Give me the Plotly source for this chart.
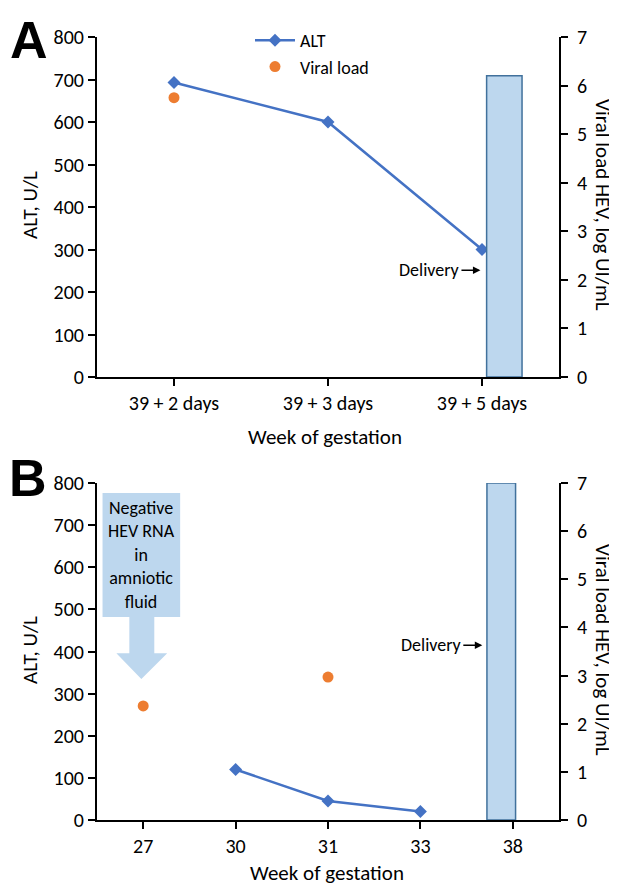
import plotly.graph_objects as go

# ---------------- data ----------------
a_cats = ["39 + 2 days", "39 + 3 days", "39 + 5 days"]
a_alt = [693, 600, 300]
a_vl_cats = ["39 + 2 days"]
a_vl = [5.75]
a_delivery_cat = ["39 + 5 days"]
a_delivery_top = [6.2]

b_cats = ["27", "30", "31", "33", "38"]
b_alt_cats = ["30", "31", "33"]
b_alt = [120, 45, 20]
b_vl_cats = ["27", "31"]
b_vl = [2.37, 2.97]
b_delivery_cat = ["38"]
b_delivery_top = [7.0]

alt_ticks = [0, 100, 200, 300, 400, 500, 600, 700, 800]
vl_ticks = [0, 1, 2, 3, 4, 5, 6, 7]

# ---------------- styles ----------------
OFF = 8                      # default page body margin
W, H = 617 - OFF, 885 - OFF
L, R, T, B = 97 - OFF, 58, 37 - OFF, 65
PW, PH = W - L - R, H - T - B
FONT = "Carlito, Calibri, Lato, sans-serif"
BLUE = "#4472C4"
ORANGE = "#ED7D31"
LIGHT = "#BDD7EE"
EDGE = "#41719C"


def px(xp):
    return (xp - OFF - L) / PW


def py(yp):
    return (H - B - (yp - OFF)) / PH


fig = go.Figure()

# Panel A
fig.add_trace(go.Bar(x=a_delivery_cat, y=a_delivery_top, xaxis="x", yaxis="y2",
                     width=0.23, offset=0.03, marker=dict(color=LIGHT, line=dict(color=EDGE, width=1.5)),
                     showlegend=False, hoverinfo="skip"))
fig.add_trace(go.Scatter(x=a_cats, y=a_alt, xaxis="x", yaxis="y", name="ALT", mode="lines+markers",
                         line=dict(color=BLUE, width=2.5), marker=dict(symbol="diamond", size=10, color=BLUE)))
fig.add_trace(go.Scatter(x=a_vl_cats, y=a_vl, xaxis="x", yaxis="y2", name="Viral load", mode="markers",
                         marker=dict(symbol="circle", size=11, color=ORANGE)))

# Panel B
fig.add_trace(go.Bar(x=b_delivery_cat, y=b_delivery_top, xaxis="x2", yaxis="y4",
                     width=0.31, offset=-0.28, marker=dict(color=LIGHT, line=dict(color=EDGE, width=1.5)),
                     showlegend=False, hoverinfo="skip"))
fig.add_trace(go.Scatter(x=b_alt_cats, y=b_alt, xaxis="x2", yaxis="y3", name="ALT", mode="lines+markers",
                         line=dict(color=BLUE, width=2.5), marker=dict(symbol="diamond", size=10, color=BLUE),
                         showlegend=False))
fig.add_trace(go.Scatter(x=b_vl_cats, y=b_vl, xaxis="x2", yaxis="y4", name="Viral load", mode="markers",
                         marker=dict(symbol="circle", size=11, color=ORANGE), showlegend=False))

axis_common = dict(showline=True, linecolor="black", linewidth=2, ticks="outside", ticklen=7,
                   tickwidth=2, tickcolor="black", showgrid=False, zeroline=False,
                   tickfont=dict(family=FONT, size=20, color="black"))

dom_a = [py(377), 1]
dom_b = [0, py(483)]

fig.update_layout(
    width=W, height=H,
    margin=dict(l=L, r=R, t=T, b=B),
    paper_bgcolor="white", plot_bgcolor="white",
    font=dict(family=FONT, color="black"),
    barmode="overlay",
    xaxis=dict(domain=[0, 1], anchor="y", type="category", categoryorder="array",
               categoryarray=a_cats, range=[-0.5, 2.5], **axis_common),
    yaxis=dict(domain=dom_a, anchor="x", range=[0, 800], tickvals=alt_ticks, **axis_common),
    yaxis2=dict(overlaying="y", side="right", anchor="x", range=[0, 7], tickvals=vl_ticks,
                ticklabelstandoff=5, **axis_common),
    xaxis2=dict(domain=[0, 1], anchor="y3", type="category", categoryorder="array",
                categoryarray=b_cats, range=[-0.5, 4.5], **axis_common),
    yaxis3=dict(domain=dom_b, anchor="x2", range=[0, 800], tickvals=alt_ticks, **axis_common),
    yaxis4=dict(overlaying="y3", side="right", anchor="x2", range=[0, 7], tickvals=vl_ticks,
                ticklabelstandoff=5, **axis_common),
    legend=dict(x=px(250), y=py(22), xanchor="left", yanchor="top", bgcolor="rgba(0,0,0,0)",
                font=dict(family=FONT, size=18, color="black"), itemwidth=40, tracegroupgap=0),
    showlegend=True,
)

# Negative HEV RNA box with arrow (panel B)
path = ("M -0.44,776 L 0.40,776 L 0.40,482 L 0.12,482 L 0.12,396 L 0.26,396 L -0.02,335 "
        "L -0.29,396 L -0.15,396 L -0.15,482 L -0.44,482 Z")
fig.add_shape(type="path", path=path, xref="x2", yref="y3", fillcolor=LIGHT, line=dict(width=0), layer="below")

ann = []
ann.append(dict(text="Negative<br>HEV RNA<br>in<br>amniotic<br>fluid", xref="x2", yref="y3", x=-0.02, y=629,
                xanchor="center", yanchor="middle",
                showarrow=False, font=dict(family=FONT, size=18, color="black"), align="center"))

# Delivery arrows
ann.append(dict(text="Delivery", xref="x", yref="y2", x=1.99, y=2.2, ax=-51, ay=0, showarrow=True,
                arrowhead=2, arrowsize=1, arrowwidth=1.5, arrowcolor="black", standoff=0,
                font=dict(family=FONT, size=18, color="black")))
ann.append(dict(text="Delivery", xref="x2", yref="y4", x=3.67, y=3.63, ax=-51, ay=0, showarrow=True,
                arrowhead=2, arrowsize=1, arrowwidth=1.5, arrowcolor="black", standoff=0,
                font=dict(family=FONT, size=18, color="black")))

# Axis titles
title_font = dict(family=FONT, size=21, color="black")
for cy in (205, 650):
    ann.append(dict(text="ALT, U/L", xref="paper", yref="paper", x=px(30), y=py(cy), textangle=-90,
                    xanchor="center", yanchor="middle", showarrow=False, font=title_font))
    ann.append(dict(text="Viral load HEV, log UI/mL", xref="paper", yref="paper", x=px(603), y=py(cy),
                    xanchor="center", yanchor="middle", textangle=90, showarrow=False, font=title_font))
ann.append(dict(text="Week of gestation", xref="paper", yref="paper", x=px(325), y=py(437),
                xanchor="center", yanchor="middle", showarrow=False, font=title_font))
ann.append(dict(text="Week of gestation", xref="paper", yref="paper", x=px(327), y=py(873),
                xanchor="center", yanchor="middle", showarrow=False, font=title_font))

# Panel letters
letter_font = dict(family="Liberation Sans, Arial, sans-serif", size=52, color="black")
ann.append(dict(text="<b>A</b>", xref="paper", yref="paper", x=px(29), y=py(9), xanchor="center",
                yanchor="top", showarrow=False, font=letter_font))
ann.append(dict(text="<b>B</b>", xref="paper", yref="paper", x=px(28), y=py(478), xanchor="center",
                yanchor="middle", showarrow=False, font=letter_font))

fig.update_layout(annotations=ann)

fig.write_html("out.html")
